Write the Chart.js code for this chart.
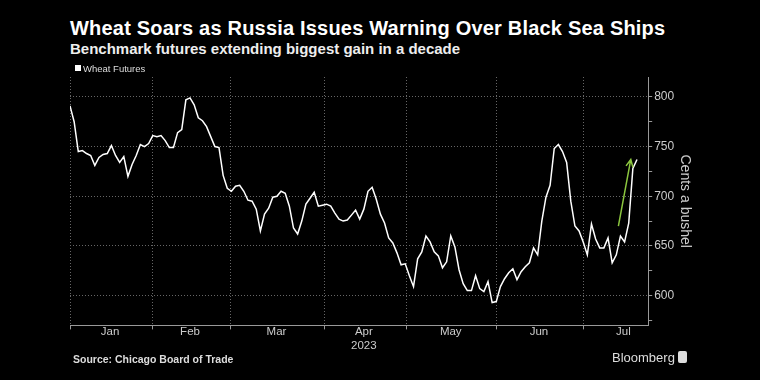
<!DOCTYPE html>
<html>
<head>
<meta charset="utf-8">
<script src="https://cdn.jsdelivr.net/npm/chart.js@4.4.0/dist/chart.umd.min.js"></script>
<style>
  body { margin: 0; background: #000; }
  #wrap { position: relative; width: 760px; height: 380px; background: #000; overflow: hidden;
          font-family: 'Liberation Sans', Arial, sans-serif; color: #fff; }
  #title { position: absolute; left: 70px; top: 18px; font-size: 20px; letter-spacing: 0.2px; font-weight: bold; line-height: 20px; white-space: nowrap; }
  #subtitle { position: absolute; left: 70px; top: 41px; font-size: 15px; font-weight: bold; line-height: 15px; white-space: nowrap; color: #eee; }
  #legend { position: absolute; left: 75px; top: 64px; font-size: 9.5px; line-height: 10px; color: #ddd; white-space: nowrap; }
  #legend span { display: inline-block; width: 6px; height: 6px; background: #fff; margin-right: 2px; vertical-align: 1px; }
  #source { position: absolute; left: 73px; top: 353px; font-size: 10.5px; font-weight: bold; color: #ddd; white-space: nowrap; }
  #brand { position: absolute; left: 612px; top: 350px; font-size: 13px; color: #ddd; white-space: nowrap; }
  #brand span { display: inline-block; width: 9px; height: 12px; background: #ddd; border-radius: 2px; vertical-align: -1px; margin-left: 3px; }
  canvas { position: absolute; left: 0; top: 0; }
</style>
</head>
<body>
<div id="wrap">
  <div id="title">Wheat Soars as Russia Issues Warning Over Black Sea Ships</div>
  <div id="subtitle">Benchmark futures extending biggest gain in a decade</div>
  <canvas id="wheatChart" width="760" height="380"></canvas>
  <div id="legend"><span></span>Wheat Futures</div>
  <div id="source">Source: Chicago Board of Trade</div>
  <div id="brand">Bloomberg<span></span></div>
</div>
<script>
// trading-day index positions
const months = ['Jan', 'Feb', 'Mar', ['Apr', '2023'], 'May', 'Jun', 'Jul'];
const monthStarts = [0, 19.9, 38.7, 61.4, 81.3, 103, 124];
const monthMids = [9.7, 29, 49.9, 71, 92, 113.3, 133.7];
const yTicks = [575, 600, 625, 650, 675, 700, 725, 750, 775, 800];

// CBOT wheat futures, cents a bushel
const wheat = [
  791, 775, 745, 746, 743, 741, 731, 739, 742, 743,
  751, 741, 734, 740, 720, 732, 741, 752, 750, 753,
  761, 760, 761, 756, 749, 749, 764, 767, 797, 799,
  792, 779, 776, 770, 760, 750, 749, 721, 708, 705,
  710, 711, 705, 696, 695, 687, 665, 682, 688, 699,
  700, 705, 703, 690, 668, 662, 675, 692, 698, 704,
  690, 691, 692, 690, 683, 677, 675, 676, 681, 686,
  677, 687, 705, 709, 697, 682, 673, 658, 653, 643,
  631, 632, 620, 609, 637, 644, 660, 654, 644, 640,
  628, 634, 660, 649, 626, 612, 605, 605, 620, 607,
  604, 614, 593, 594, 609, 617, 623, 627, 616, 624,
  629, 633, 648, 641, 675, 699, 711, 748, 752, 745,
  734, 695, 670, 665, 654, 641, 672, 657, 648, 648,
  658, 633, 641, 660, 654, 673, 728, 737
];

const arrowFrom = [132.5, 670];
const arrowTo = [135.5, 737];

const arrowPlugin = {
  id: 'arrow',
  afterDatasetsDraw(chart) {
    const { ctx, scales: { x, y } } = chart;
    const x1 = x.getPixelForValue(arrowFrom[0]), y1 = y.getPixelForValue(arrowFrom[1]);
    const x2 = x.getPixelForValue(arrowTo[0]), y2 = y.getPixelForValue(arrowTo[1]);
    const a = Math.atan2(y2 - y1, x2 - x1);
    const len = 8;
    ctx.save();
    ctx.strokeStyle = '#8cc63f';
    ctx.lineWidth = 1.5;
    ctx.beginPath();
    ctx.moveTo(x1, y1);
    ctx.lineTo(x2, y2);
    ctx.moveTo(x2 - len * Math.cos(a - 0.45), y2 - len * Math.sin(a - 0.45));
    ctx.lineTo(x2, y2);
    ctx.lineTo(x2 - len * Math.cos(a + 0.45), y2 - len * Math.sin(a + 0.45));
    ctx.stroke();
    ctx.restore();
  }
};

const config = {
  type: 'line',
  data: {
    datasets: [{
      label: 'Wheat Futures',
      data: wheat.map((v, i) => ({ x: i, y: v })),
      borderColor: '#fff',
      backgroundColor: '#fff',
      borderWidth: 1.5,
      pointRadius: 0,
      tension: 0
    }]
  },
  options: {
    responsive: false,
    animation: false,
    layout: { padding: { top: 77, left: 70, right: 61, bottom: 31 } },
    plugins: {
      legend: { display: false },
      tooltip: { enabled: false }
    },
    scales: {
      x: {
        type: 'linear',
        min: 0,
        max: 139.7,
        afterBuildTicks: axis => {
          axis.ticks = [...monthStarts, ...monthMids].sort((a, b) => a - b).map(v => ({ value: v }));
        },
        ticks: {
          autoSkip: false, maxRotation: 0, padding: -4, color: '#ccc',
          font: { family: 'Liberation Sans', size: 11.5 },
          callback: v => {
            const k = monthMids.indexOf(v);
            return k >= 0 ? months[k] : '';
          }
        },
        grid: {
          color: c => c.tick && monthStarts.includes(c.tick.value) ? '#666' : 'transparent',
          tickColor: c => c.tick && monthStarts.includes(c.tick.value) ? '#999' : 'transparent',
          tickLength: 4
        },
        border: { color: '#999', width: 1, dash: [1, 2] }
      },
      y: {
        position: 'right',
        min: 570,
        max: 820,
        afterBuildTicks: axis => {
          axis.ticks = yTicks.map(v => ({ value: v }));
        },
        ticks: {
          padding: 2, color: '#ccc',
          font: { family: 'Liberation Sans', size: 12 },
          callback: v => v % 50 === 0 ? v : ''
        },
        grid: {
          color: c => c.tick && c.tick.value % 50 === 0 ? '#666' : 'transparent',
          tickColor: '#999',
          tickLength: 4
        },
        border: { color: '#999', width: 1, dash: [1, 2] },
        title: {
          display: true, text: 'Cents a bushel', color: '#ccc', padding: { top: 6, bottom: 0 },
          font: { family: 'Liberation Sans', size: 14 }
        }
      }
    }
  },
  plugins: [arrowPlugin]
};

new Chart(document.getElementById('wheatChart'), config);
</script>
</body>
</html>
